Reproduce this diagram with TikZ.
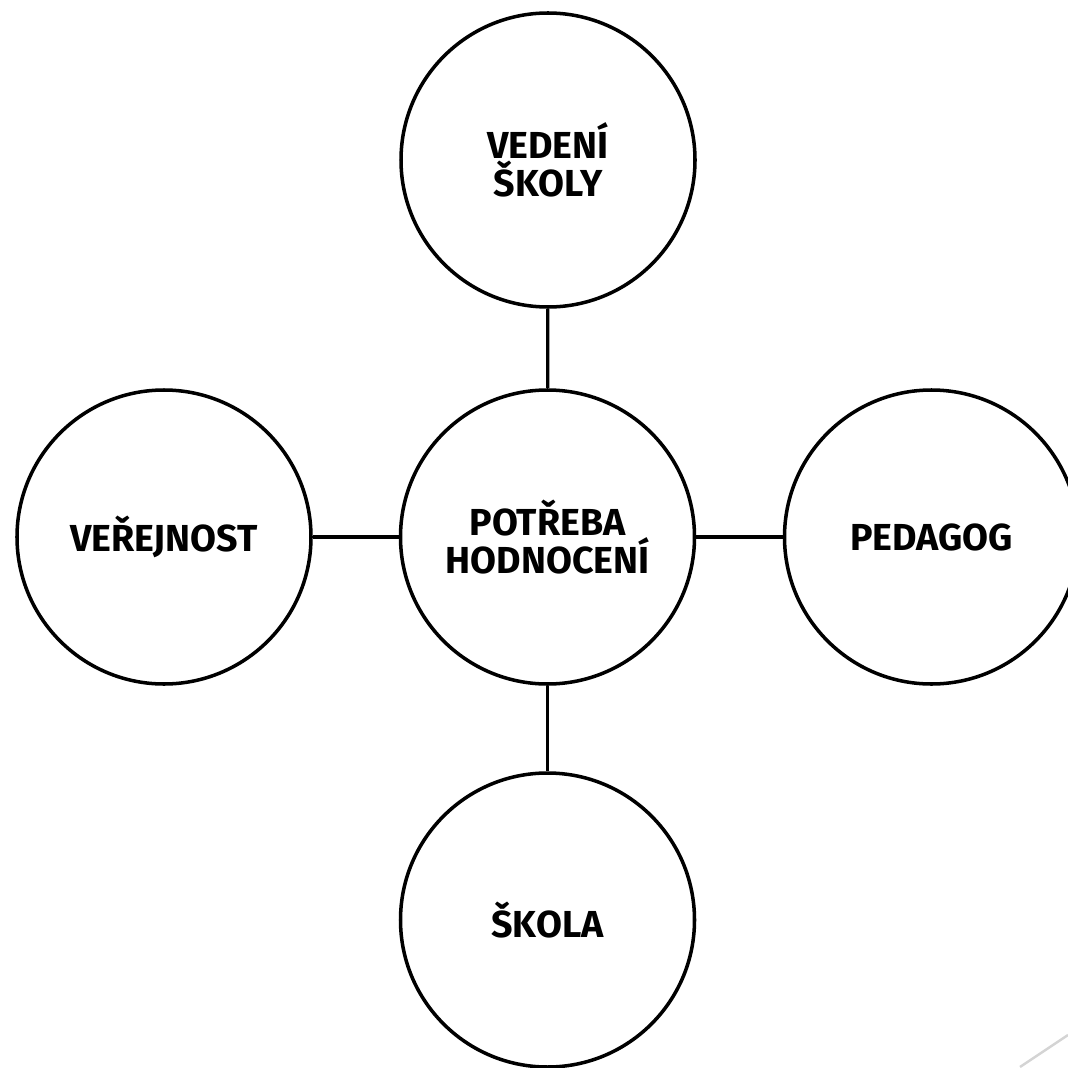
\documentclass[tikz,border=0pt]{standalone}
\usepackage{fontspec}
\setmainfont{Fira Sans}
\usepackage{xcolor}
\definecolor{decogray}{RGB}{212,212,212}

\begin{document}
\begin{tikzpicture}[bubble/.style={draw,circle,line width=1pt,minimum size=2.94cm,inner sep=0pt,align=center,font=\fontsize{10.7}{10.9}\selectfont\bfseries}]
    \useasboundingbox (0,0) rectangle (10.68,10.67);
    \clip (0,0) rectangle (10.68,10.67);
    \node[bubble] (need) at (5.475,5.30) {POTŘEBA\\HODNOCENÍ};
    \node[bubble] (lead) at (5.48,9.07) {VEDENÍ\\ŠKOLY};
    \node[bubble] (public) at (1.64,5.30) {VEŘEJNOST};
    \node[bubble] (teacher) at (9.315,5.30) {PEDAGOG};
    \node[bubble] (school) at (5.475,1.47) {ŠKOLA};
    
    \draw[line width=0.9pt] (lead) -- (need);
    \draw[line width=0.9pt] (public) -- (need);
    \draw[line width=0.9pt] (need) -- (teacher);
    \draw[line width=0.9pt] (need) -- (school);
    
    \draw[decogray,line width=0.7pt] (10.20,0) -- (10.68,0.32);
\end{tikzpicture}
\end{document}
